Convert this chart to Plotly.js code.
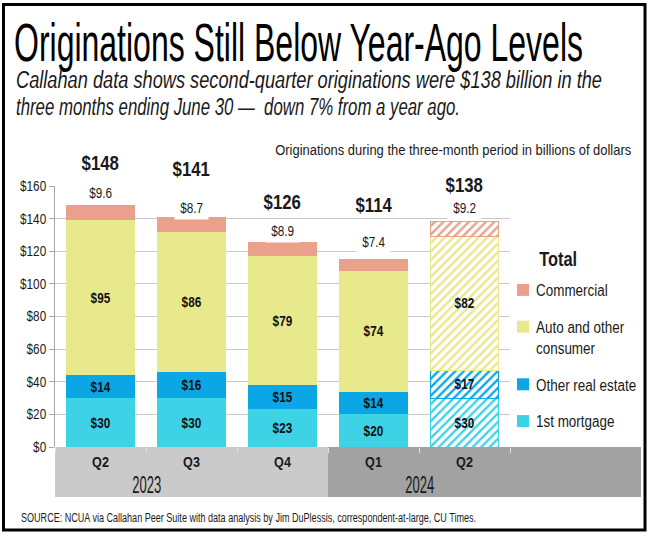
<!DOCTYPE html>
<html>
<head>
<meta charset="utf-8">
<script src="https://cdn.plot.ly/plotly-3.0.1.min.js"></script>
<style>html,body{margin:0;padding:0;background:#fff;}#chart{width:650px;height:536px;}</style>
</head>
<body>
<div id="chart"></div>
<script>
// ---- data ----
const quarters = ['Q2', 'Q3', 'Q4', 'Q1', 'Q2'];
const years = ['2023', '2023', '2023', '2024', '2024'];
const firstMortgage = [30, 30, 23, 20, 30];
const otherRealEstate = [14, 16, 15, 14, 17];
const autoConsumer = [95, 86, 79, 74, 82];
const commercial = [9.6, 8.7, 8.9, 7.4, 9.2];
const totals = [148, 141, 126, 114, 138];
const yTicks = [0, 20, 40, 60, 80, 100, 120, 140, 160];

// ---- label placement (data units / category positions) ----
const totalLabelY = [174, 170.5, 150, 148.5, 160.5];
const commLabelY = [155.5, 146.5, 132.5, 125.5, 146.5];
const yearLabelX = [0.5, 3.5];

// ---- layout helpers ----
const W = 650, H = 536;
const M = {l: 55, r: 140, t: 186, b: 89, autoexpand: false};
const PW = W - M.l - M.r, PH = H - M.t - M.b;
const Y_RANGE = [0, 160];
const px = x => (x - M.l) / PW;
const py = y => (H - M.b - y) / PH;
const dataToPaperY = v => (v - Y_RANGE[0]) / (Y_RANGE[1] - Y_RANGE[0]);

const FONT = '"Liberation Sans", Arial, sans-serif';
const INK = '#1a1a1a';
const CONDENSE = 0.84;

const xKeys = quarters.map((q, i) => q + ' ' + years[i]);
const lastIdx = xKeys.length - 1;
const hatchShape = xKeys.map((k, i) => i === lastIdx ? '/' : '');
const lineW = xKeys.map((k, i) => i === lastIdx ? 1 : 0);

function barTrace(name, vals, color, showText, rank) {
  return {
    type: 'bar', name: name, x: xKeys, y: vals,
    legendgroup: name, legendrank: rank,
    marker: {
      color: color,
      line: {color: color, width: lineW},
      pattern: {shape: hatchShape, fgcolor: color, bgcolor: '#ffffff', size: 6, solidity: 0.4, fillmode: 'replace'}
    },
    text: showText ? vals.map(v => '$' + v) : undefined,
    textposition: showText ? 'inside' : 'none',
    insidetextanchor: 'middle',
    constraintext: 'none',
    textfont: {family: FONT, size: 14, color: '#111', weight: 'bold'},
    hoverinfo: 'skip'
  };
}

const traces = [
  barTrace('1st mortgage', firstMortgage, '#3dd2e6', true, 4),
  barTrace('Other real estate', otherRealEstate, '#0aa6e6', true, 3),
  barTrace('Auto and other<br>consumer', autoConsumer, '#e8e88c', true, 2),
  barTrace('Commercial', commercial, '#eba08b', false, 1)
];

const annotations = [];
const annWidths = {};
function addAnn(a, width) {
  if (width) annWidths[annotations.length] = width;
  annotations.push(a);
}

xKeys.forEach((k, i) => {
  addAnn({
    x: k, y: dataToPaperY(totalLabelY[i]), xref: 'x', yref: 'paper', showarrow: false,
    xanchor: 'center', yanchor: 'middle',
    text: '<b>$' + totals[i] + '</b>', bgcolor: '#ffffff', borderpad: 1,
    font: {family: FONT, size: 20, color: INK}
  });
  addAnn({
    x: k, y: dataToPaperY(commLabelY[i]), xref: 'x', yref: 'paper', showarrow: false,
    xanchor: 'center', yanchor: 'middle',
    text: '$' + commercial[i].toFixed(1), bgcolor: '#ffffff', borderpad: 3,
    font: {family: FONT, size: 14, color: INK}
  });
});

// year bands
const yearNames = [...new Set(years)];
const bandEdges = [0];
yearNames.forEach(y => bandEdges.push(years.lastIndexOf(y) + 1));
const bandX = bandEdges.map(e => e / xKeys.length);
bandX[bandX.length - 1] = px(641);
const bandColors = ['#cacaca', '#a2a2a2'];
const shapes = [];
yearNames.forEach((y, j) => {
  shapes.push({type: 'rect', xref: 'paper', yref: 'paper', layer: 'below',
    x0: bandX[j], x1: bandX[j + 1], y0: py(497), y1: 0,
    fillcolor: bandColors[j], line: {width: 0}});
  addAnn({xref: 'x', yref: 'paper', x: yearLabelX[j], y: py(484),
    text: y, showarrow: false, xanchor: 'center', yanchor: 'middle',
    font: {family: FONT, size: 24, color: INK}}, 29);
});
// outer frame
shapes.push({type: 'rect', xref: 'paper', yref: 'paper', layer: 'above',
  x0: px(3.5), x1: px(645), y0: py(530), y1: py(4.5),
  line: {color: '#000', width: 3}, fillcolor: 'rgba(0,0,0,0)'});

addAnn({xref: 'paper', yref: 'paper', x: px(14), y: py(80), xanchor: 'left', yanchor: 'middle', align: 'left',
  showarrow: false, text: '<i>Callahan data shows second-quarter originations were $138 billion in the</i>',
  font: {family: FONT, size: 23, color: INK}}, 586);
addAnn({xref: 'paper', yref: 'paper', x: px(14), y: py(107), xanchor: 'left', yanchor: 'middle', align: 'left',
  showarrow: false, text: '<i>three months ending June 30 \u2014  down 7% from a year ago.</i>',
  font: {family: FONT, size: 23, color: INK}}, 444);
addAnn({xref: 'paper', yref: 'paper', x: px(633), y: py(150), xanchor: 'right', yanchor: 'middle', align: 'right',
  showarrow: false, text: 'Originations during the three-month period in billions of dollars',
  font: {family: FONT, size: 14, color: INK}}, 356);
addAnn({xref: 'paper', yref: 'paper', x: px(19), y: py(518), xanchor: 'left', yanchor: 'middle', align: 'left',
  showarrow: false, text: 'SOURCE: NCUA via Callahan Peer Suite with data analysis by Jim DuPlessis, correspondent-at-large, CU Times.',
  font: {family: FONT, size: 12.5, color: INK}}, 455);
// legend heading
addAnn({xref: 'paper', yref: 'paper', x: px(558), y: py(259), xanchor: 'center', yanchor: 'middle',
  showarrow: false, text: '<b>Total</b>', font: {family: FONT, size: 20, color: INK}}, 38);

const TITLE_W = 569;
const LEGEND_TEXT_SHIFT = -7;

const layout = {
  width: W, height: H,
  margin: M,
  paper_bgcolor: '#ffffff', plot_bgcolor: '#ffffff',
  barmode: 'stack', bargap: 0.25,
  title: {
    text: 'Originations Still Below Year-Ago Levels',
    font: {family: FONT, size: 54, color: '#000'},
    xref: 'container', yref: 'container', x: 14 / W, xanchor: 'left', y: 1 - 42 / H, yanchor: 'middle'
  },
  xaxis: {
    type: 'category', tickvals: xKeys, ticktext: quarters,
    tickfont: {family: FONT, size: 15, color: INK, weight: 'bold'},
    showgrid: false, showline: false, zeroline: false,
    ticks: 'outside', tickson: 'boundaries', ticklen: 5, tickcolor: '#e2e2e2',
    ticklabelstandoff: 4, fixedrange: true
  },
  yaxis: {
    range: Y_RANGE, tickvals: yTicks, ticktext: yTicks.map(v => '$' + v),
    tickfont: {family: FONT, size: 14, color: INK},
    showgrid: true, gridcolor: '#c9c9c9', gridwidth: 1,
    showline: true, linecolor: '#a8a8a8', linewidth: 1,
    ticks: 'outside', ticklen: 5, tickcolor: '#a8a8a8',
    zeroline: false, fixedrange: true
  },
  legend: {
    x: px(503), y: py(273), xanchor: 'left', yanchor: 'top',
    traceorder: 'grouped', tracegroupgap: 13, valign: 'top',
    font: {family: FONT, size: 16, color: INK},
    bgcolor: 'rgba(0,0,0,0)', itemwidth: 30
  },
  shapes: shapes,
  annotations: annotations,
  showlegend: true
};

function condense(gd) {
  gd.querySelectorAll('.svg-container text').forEach(t => {
    let target = null;
    if (t.classList.contains('gtitle')) target = TITLE_W;
    const ann = t.closest('g.annotation');
    if (ann) {
      const idx = +ann.getAttribute('data-index');
      if (annWidths[idx]) target = annWidths[idx];
    }
    const lines = t.querySelectorAll('tspan.line');
    const parts = lines.length ? Array.from(lines) : [t];
    parts.forEach(p => {
      const L = p.getComputedTextLength();
      if (!(L > 0)) return;
      p.setAttribute('textLength', (target || L * CONDENSE).toFixed(2));
      p.setAttribute('lengthAdjust', 'spacingAndGlyphs');
    });
  });
  // tighten the gap between legend swatches and their labels
  gd.querySelectorAll('.legend text.legendtext').forEach(t => {
    [t].concat(Array.from(t.querySelectorAll('tspan.line'))).forEach(el => {
      const x = parseFloat(el.getAttribute('x'));
      if (!isNaN(x)) el.setAttribute('x', x + LEGEND_TEXT_SHIFT);
    });
  });
}

Plotly.newPlot('chart', traces, layout, {displayModeBar: false, staticPlot: true})
  .then(gd => condense(gd));
</script>
</body>
</html>
